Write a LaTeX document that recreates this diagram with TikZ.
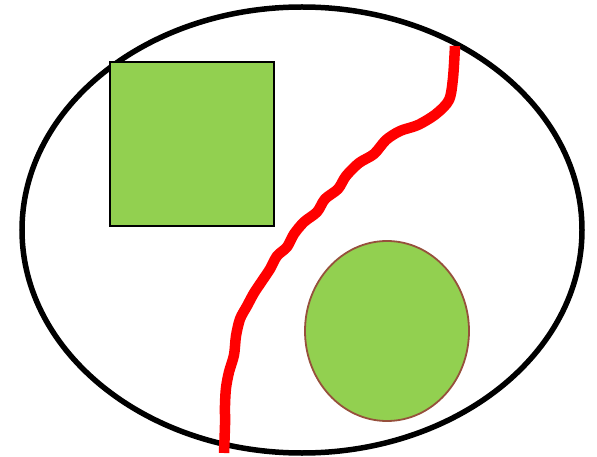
\documentclass[tikz,border=0pt]{standalone}
\usepackage{tikz}
\definecolor{LeafGreen}{RGB}{146,208,80}
\definecolor{RimBrown}{RGB}{150,80,60}
\definecolor{CutRed}{RGB}{255,0,0}
\tikzset{
  outerset/.style={draw=black,line width=5.5pt},
  squarebox/.style={draw=black,line width=2pt,fill=LeafGreen},
  roundblob/.style={draw=RimBrown,line width=1.8pt,fill=LeafGreen},
  cutline/.style={draw=CutRed,line width=10.5pt,line join=round}
}
\begin{document}
\begin{tikzpicture}[x=1pt,y=-1pt]
\useasboundingbox (0,0) rectangle (597,457);
% outer set
\draw[outerset] (302,230) ellipse [x radius=280, y radius=223];
% the square
\draw[squarebox] (110,62) rectangle (274,226);
% the disc
\draw[roundblob] (387,331) ellipse [x radius=82, y radius=90];
% the cut
\draw[cutline] plot[smooth,tension=0.5] coordinates {
  (455,46) (453,78) (449,100) (436,114) (418,125) (400,131) (386,140)
  (374,154) (359,163) (346,176) (338,189) (325,199) (317,212) (304,222)
  (294,234) (287,247) (277,256) (270,269) (262,281) (254,293) (247,306)
  (240,319) (236,336) (234,355) (229,372) (226,388) (225,405) (225,425)
  (224,453)};
\end{tikzpicture}
\end{document}
